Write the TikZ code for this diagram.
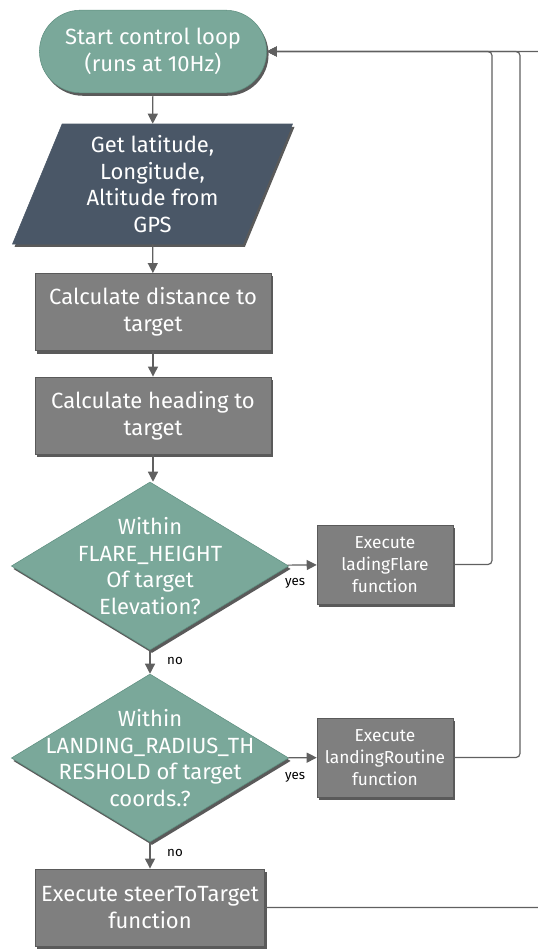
\documentclass[tikz,border=0pt]{standalone}
\usepackage{fontspec}
\setmainfont{Fira Sans}
\usetikzlibrary{shapes.geometric,shapes.misc,shadows,arrows.meta}

\definecolor{tealfill}{HTML}{7AA89A}
\definecolor{tealline}{HTML}{5E8F80}
\definecolor{slatefill}{HTML}{4A5767}
\definecolor{boxfill}{HTML}{7F7F7F}
\definecolor{boxline}{HTML}{5A5A5A}
\definecolor{wire}{HTML}{606060}

\tikzset{
  shade/.style={drop shadow={shadow xshift=1.5pt,shadow yshift=-2.2pt,fill=boxline,opacity=1}},
  bigtext/.style={text=white,align=center,font=\fontsize{16.5}{20}\selectfont},
  smalltext/.style={text=white,align=center,font=\fontsize{13}{16.5}\selectfont},
  startbox/.style={rounded rectangle,draw=tealline,fill=tealfill,shade,bigtext,minimum width=177pt,minimum height=62pt},
  iobox/.style={trapezium,trapezium left angle=63,trapezium right angle=117,trapezium stretches body,draw=slatefill,fill=slatefill,shade,bigtext,minimum width=210pt,minimum height=90pt,inner sep=0pt},
  procbox/.style={rectangle,draw=boxline,fill=boxfill,shade,bigtext,minimum width=177pt,minimum height=58pt,inner sep=1pt},
  callbox/.style={rectangle,draw=boxline,fill=boxfill,shade,smalltext,minimum width=102pt,minimum height=59pt,inner sep=1pt},
  testbox/.style={diamond,aspect=1.65,draw=tealline,fill=tealfill,shade,bigtext,minimum width=208pt,minimum height=126pt,inner sep=-40pt},
  flow/.style={draw=wire,line width=0.9pt,-{Triangle[length=7.5pt,width=7.5pt]}},
  note/.style={font=\fontsize{10}{12}\selectfont,inner sep=0pt}
}

\begin{document}
\begin{tikzpicture}[x=0.75pt,y=0.75pt,yscale=-1,xscale=1]
\useasboundingbox (0,0) rectangle (537,950);

% blocks of the main column
\node (start) [startbox] at (153,51.5) {Start control loop\\(runs at 10Hz)};
\node (gps) [iobox] at (152.5,184) {Get latitude,\\Longitude,\\Altitude from\\GPS};
\node (dist) [procbox] at (153,312) {Calculate distance to\\target};
\node (head) [procbox] at (153,415.5) {Calculate heading to\\target};
\node (flare) [testbox] at (150,566) {Within\\FLARE\_HEIGHT\\Of target\\Elevation?};
\node (radius) [testbox] at (150,758) {Within\\LANDING\_RADIUS\_TH\\RESHOLD of target\\coords.?};
\node (steer) [procbox,minimum width=172pt] at (150,907.5) {Execute steerToTarget\\function};

% side blocks
\node (doflare) [callbox] at (385,564.5) {Execute\\ladingFlare\\function};
\node (doland) [callbox] at (385,757.5) {Execute\\landingRoutine\\function};

% free ends off the right edge
\coordinate (exitA) at (492,0);
\coordinate (exitB) at (520,0);
\coordinate (exitC) at (560,0);

% connectors
\draw [flow] (start) -- (gps);
\draw [flow] (gps) -- (dist);
\draw [flow] (dist) -- (head);
\draw [flow] (head.south) -- (head.south |- flare.north);
\draw [flow] (flare) -- (radius);
\draw [flow] (radius.south) -- (radius.south |- steer.north);
\draw [flow] (flare) -- (doflare);
\draw [flow] (radius) -- (doland);

\draw [flow,rounded corners=3pt] (doflare.east) -| (exitA |- start.east) -- (start.east);
\draw [flow,rounded corners=3pt] (doland.east) -| (exitB |- start.east) -- (start.east);
\draw [flow,rounded corners=3pt] (steer.east) -| (exitC |- start.east) -- (start.east);

% branch labels
\node (yes1) [note] at (295,583) {yes};
\node (yes2) [note] at (295,777) {yes};
\node (no1) [note] at (175,661) {no};
\node (no2) [note] at (175,853) {no};
\end{tikzpicture}
\end{document}
